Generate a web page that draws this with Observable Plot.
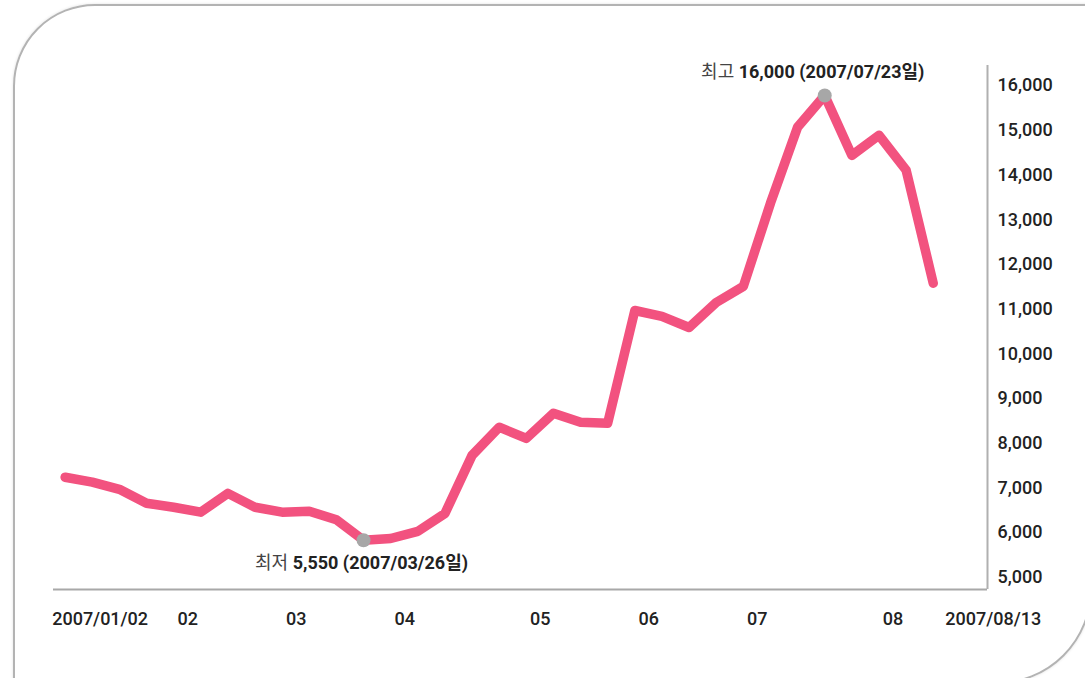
<!DOCTYPE html>
<html>
<head>
<meta charset="utf-8">
<script src="https://cdn.jsdelivr.net/npm/d3@7"></script>
<script src="https://cdn.jsdelivr.net/npm/@observablehq/plot@0.6"></script>
<style>
  html, body { margin: 0; padding: 0; background: #fff; overflow: hidden; }
  #wrap { position: relative; width: 1085px; height: 678px; overflow: hidden; }
  #frame {
    position: absolute; left: 13px; top: 4px; width: 1075px; height: 676px;
    border: 2px solid #b3b3b3; border-top-left-radius: 82px; border-bottom-right-radius: 95px;
    box-shadow: 0 0 3px rgba(0,0,0,0.12);
  }
  #chart { position: absolute; left: 0; top: 0; }
</style>
</head>
<body>
<div id="wrap"><div id="frame"></div><div id="chart"></div></div>
<script>
// Weekly dates (x) and prices (y)
const dates = [
  "2007-01-08","2007-01-15","2007-01-22","2007-01-29",
  "2007-02-05","2007-02-12","2007-02-19","2007-02-26",
  "2007-03-05","2007-03-12","2007-03-19","2007-03-26",
  "2007-04-02","2007-04-09","2007-04-16","2007-04-23","2007-04-30",
  "2007-05-07","2007-05-14","2007-05-21","2007-05-28",
  "2007-06-04","2007-06-11","2007-06-18","2007-06-25",
  "2007-07-02","2007-07-09","2007-07-16","2007-07-23","2007-07-30",
  "2007-08-06","2007-08-13","2007-08-20"
];
const prices = [
  7240, 7130, 6970, 6660,
  6570, 6460, 6880, 6570,
  6460, 6480, 6290, 5830,
  5870, 6030, 6430, 7730, 8360,
  8110, 8670, 8470, 8450,
  10970, 10840, 10590, 11150,
  11510, 13370, 15070, 15780, 14440,
  14890, 14110, 11580
];
// axis ticks
const yTicks = [5000, 6000, 7000, 8000, 9000, 10000, 11000, 12000, 13000, 14000, 15000, 16000];
const monthTickDates = ["2007-02-05","2007-03-05","2007-04-02","2007-05-07","2007-06-04","2007-07-02","2007-08-06"];
const monthTickLabels = ["02","03","04","05","06","07","08"];
const startLabel = "2007/01/02";
const endLabel = "2007/08/13";
// annotations
const extremeDates = ["2007-07-23", "2007-03-26"];
const extremePrefix = ["최고", "최저"];
const extremeText = ["16,000 (2007/07/23일)", "5,550 (2007/03/26일)"];
const extremeDy = [-23, 23];
const extremeDx = [-12, -2];

const data = dates.map((d, i) => ({date: new Date(d), price: prices[i]}));
const extremes = extremeDates.map((d, i) => {
  const p = data.find(r => +r.date === +new Date(d));
  return {date: p.date, price: p.price, label: extremePrefix[i] + " " + extremeText[i]};
});
const xDomain = [new Date("2007-01-05"), new Date("2007-09-03")];
const yDomain = [4730, 16450];
const monthMap = new Map(monthTickDates.map((d, i) => [+new Date(d), monthTickLabels[i]]));

const font = "Roboto, 'Noto Sans CJK KR', sans-serif";
const chart = Plot.plot({
  width: 1085, height: 678,
  marginLeft: 53, marginRight: 98, marginTop: 65, marginBottom: 89,
  x: {type: "utc", domain: xDomain},
  y: {domain: yDomain},
  style: {fontFamily: font, fontSize: "18px", fontWeight: 500, color: "#222", background: "transparent", overflow: "visible"},
  marks: [
    Plot.ruleY([yDomain[0]], {stroke: "#a8a8a8", strokeWidth: 2}),
    Plot.ruleX([xDomain[1]], {stroke: "#b0b0b0", strokeWidth: 2}),
    Plot.axisY(yTicks, {anchor: "right", tickSize: 0, tickPadding: 10, tickFormat: d3.format(","), label: null, fill: "#222"}),
    Plot.axisX(monthTickDates.map(d => new Date(d)), {anchor: "bottom", tickSize: 0, tickPadding: 23, dx: 14, tickFormat: d => monthMap.get(+d), label: null, fill: "#222"}),
    Plot.axisX([data[0].date], {anchor: "bottom", tickSize: 0, tickPadding: 23, dx: 35, tickFormat: () => startLabel, label: null, fill: "#222"}),
    Plot.axisX([data[data.length - 1].date], {anchor: "bottom", tickSize: 0, tickPadding: 23, dx: 60, tickFormat: () => endLabel, label: null, fill: "#222"}),
    Plot.line(data, {x: "date", y: "price", stroke: "#F2527F", strokeWidth: 9.5, strokeLinejoin: "round", strokeLinecap: "round"}),
    Plot.dot(extremes, {x: "date", y: "price", r: 7, fill: "#a7a7a7", stroke: "none"}),
    Plot.text([extremes[0]], {x: "date", y: "price", text: "label", dx: extremeDx[0], dy: extremeDy[0], fontSize: 18, fill: "#222"}),
    Plot.text([extremes[1]], {x: "date", y: "price", text: "label", dx: extremeDx[1], dy: extremeDy[1], fontSize: 18, fill: "#222"})
  ]
});
document.getElementById("chart").appendChild(chart);

// mixed weights in annotation labels
chart.querySelectorAll("text").forEach(t => {
  const s = t.textContent;
  const idx = extremePrefix.findIndex(p => s.startsWith(p + " "));
  if (idx < 0) return;
  const rest = s.slice(extremePrefix[idx].length + 1);
  t.textContent = "";
  const a = document.createElementNS("http://www.w3.org/2000/svg", "tspan");
  a.setAttribute("font-weight", "400"); a.setAttribute("fill", "#444");
  a.textContent = extremePrefix[idx] + " ";
  const b = document.createElementNS("http://www.w3.org/2000/svg", "tspan");
  b.setAttribute("font-weight", "700"); b.setAttribute("fill", "#222");
  b.textContent = rest;
  t.appendChild(a); t.appendChild(b);
});
</script>
</body>
</html>
